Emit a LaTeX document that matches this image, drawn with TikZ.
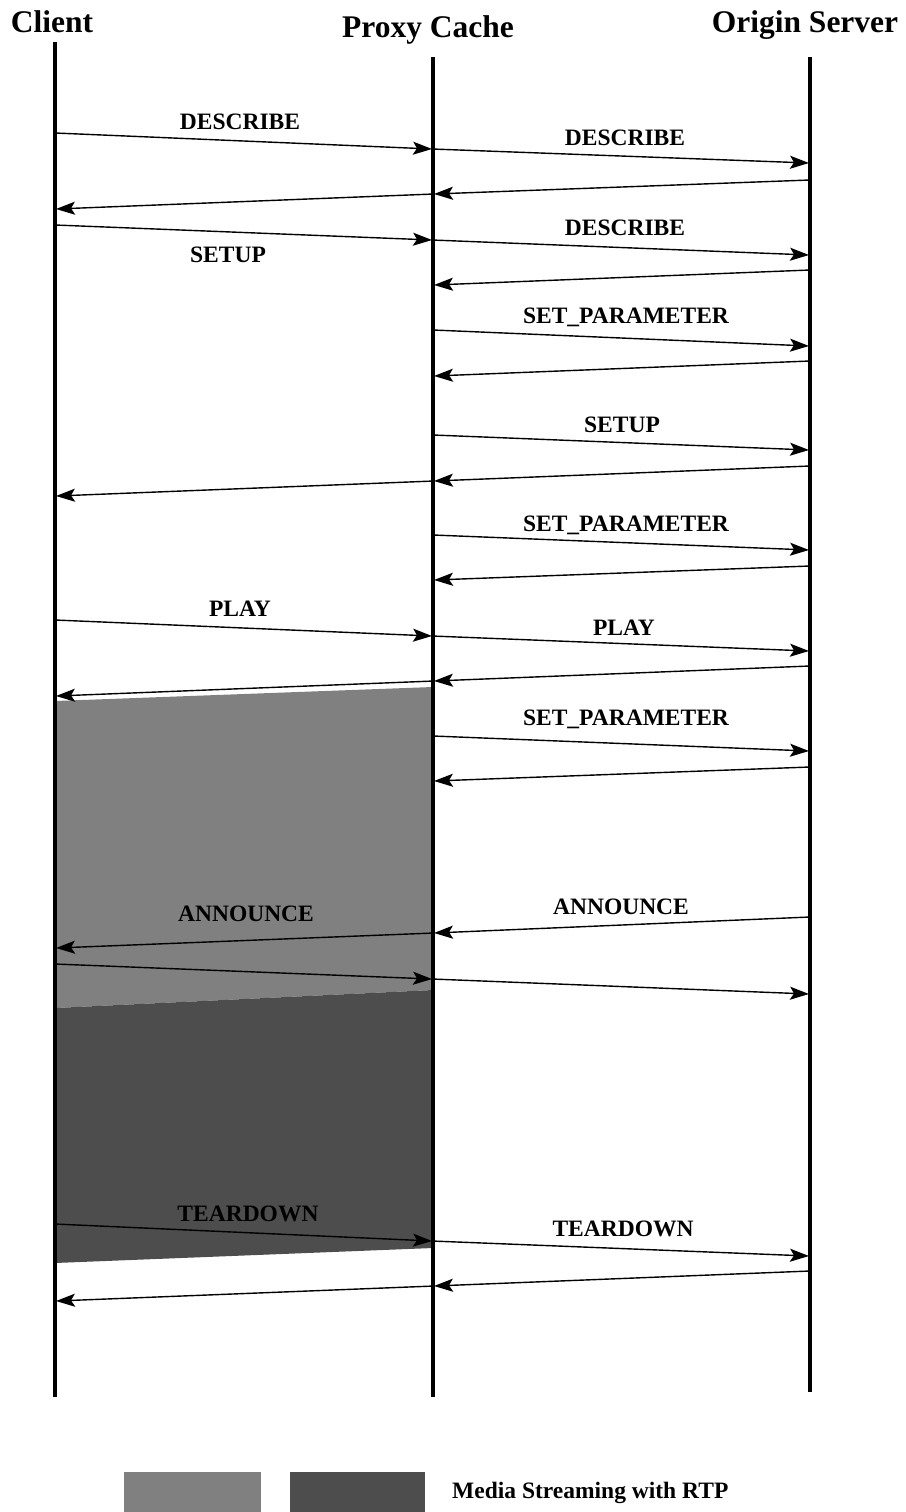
\documentclass[tikz,border=0pt]{standalone}
\usepackage{fontspec}
\setmainfont{Liberation Serif}
\usetikzlibrary{arrows.meta}
\definecolor{lightshade}{HTML}{808080}
\definecolor{darkshade}{HTML}{4D4D4D}
\tikzset{
  lifeline/.style={line width=3.3pt},
  msg/.style={line width=1.4pt,-{Stealth[length=19pt,width=13pt,inset=4pt]}},
  lbl/.style={font=\fontsize{23.5}{26}\selectfont\bfseries,anchor=base,inner sep=0pt},
  hdr/.style={font=\fontsize{31.5}{34}\selectfont\bfseries,anchor=base,inner sep=0pt},
  legtext/.style={font=\fontsize{23.5}{26}\selectfont\bfseries,anchor=west,inner sep=0pt}
}
\begin{document}
\begin{tikzpicture}[x=1pt,y=-1pt]
\useasboundingbox (0,0) rectangle (905,1512);
% shaded streaming regions
\coordinate (s1) at (55,701);
\coordinate (s2) at (433,687);
\coordinate (s3) at (433,990);
\coordinate (s4) at (55,1008);
\coordinate (s5) at (433,1248);
\coordinate (s6) at (55,1263);
\fill[lightshade] (s1) -- (s2) -- (s3) -- (s4) -- cycle;
\fill[darkshade] (s4) -- (s3) -- (s5) -- (s6) -- cycle;
% headers
\node[hdr] (hc) at (52,33) {Client};
\node[hdr] (hp) at (428,38) {Proxy Cache};
\node[hdr] (ho) at (805,33) {Origin Server};
% lifelines
\coordinate (ct) at (55,42);  \coordinate (cb) at (55,1397);
\coordinate (pt) at (433,57); \coordinate (pb) at (433,1397);
\coordinate (ot) at (810,57); \coordinate (ob) at (810,1392);
\draw[lifeline] (ct) -- (cb);
\draw[lifeline] (pt) -- (pb);
\draw[lifeline] (ot) -- (ob);
% message end points
\foreach \n/\x/\y in {
  a1/55/133, a2/432/149, a3/809/163,
  b1/810/180, b2/434/194, b3/56/209,
  c1/55/225, c2/432/240, c3/809/255,
  d1/810/270, d2/434/285,
  e1/433/330, e2/809/346,
  f1/810/361, f2/434/376,
  g1/433/435, g2/809/450,
  h1/810/466, h2/434/481, h3/56/496,
  i1/433/535, i2/809/550,
  j1/810/566, j2/434/580,
  k1/55/620, k2/432/636, k3/809/651,
  l1/810/666, l2/434/681, l3/56/696,
  m1/433/736, m2/809/751,
  n1/810/767, n2/434/781,
  o1/810/917, o2/434/933, o3/56/948,
  q1/55/964, q2/432/979, q3/809/994,
  r1/55/1224, r2/432/1241, r3/809/1256,
  t1/810/1271, t2/434/1286, t3/56/1301}
  {\coordinate (\n) at (\x,\y);}
% messages
\draw[msg] (a1) -- (a2); \draw[msg] (a2) -- (a3);
\draw[msg] (b1) -- (b2); \draw[msg] (b2) -- (b3);
\draw[msg] (c1) -- (c2); \draw[msg] (c2) -- (c3);
\draw[msg] (d1) -- (d2);
\draw[msg] (e1) -- (e2);
\draw[msg] (f1) -- (f2);
\draw[msg] (g1) -- (g2);
\draw[msg] (h1) -- (h2); \draw[msg] (h2) -- (h3);
\draw[msg] (i1) -- (i2);
\draw[msg] (j1) -- (j2);
\draw[msg] (k1) -- (k2); \draw[msg] (k2) -- (k3);
\draw[msg] (l1) -- (l2); \draw[msg] (l2) -- (l3);
\draw[msg] (m1) -- (m2);
\draw[msg] (n1) -- (n2);
\draw[msg] (o1) -- (o2); \draw[msg] (o2) -- (o3);
\draw[msg] (q1) -- (q2); \draw[msg] (q2) -- (q3);
\draw[msg] (r1) -- (r2); \draw[msg] (r2) -- (r3);
\draw[msg] (t1) -- (t2); \draw[msg] (t2) -- (t3);
% labels
\node[lbl] (la1) at (240,129) {DESCRIBE};
\node[lbl] (la2) at (625,145) {DESCRIBE};
\node[lbl] (lc1) at (228,262) {SETUP};
\node[lbl] (lc2) at (625,235) {DESCRIBE};
\node[lbl] (le) at (626,323) {SET\_PARAMETER};
\node[lbl] (lg) at (622,432) {SETUP};
\node[lbl] (li) at (626,531) {SET\_PARAMETER};
\node[lbl] (lk1) at (240,616) {PLAY};
\node[lbl] (lk2) at (624,635) {PLAY};
\node[lbl] (lm) at (626,725) {SET\_PARAMETER};
\node[lbl] (lo1) at (621,914) {ANNOUNCE};
\node[lbl] (lo2) at (246,921) {ANNOUNCE};
\node[lbl] (lr1) at (248,1221) {TEARDOWN};
\node[lbl] (lr2) at (623,1236) {TEARDOWN};
% legend
\fill[lightshade] (124,1472) rectangle (261,1512);
\fill[darkshade] (290,1472) rectangle (425,1512);
\node[legtext] (lt) at (452,1493) {Media Streaming with RTP};
\end{tikzpicture}
\end{document}
